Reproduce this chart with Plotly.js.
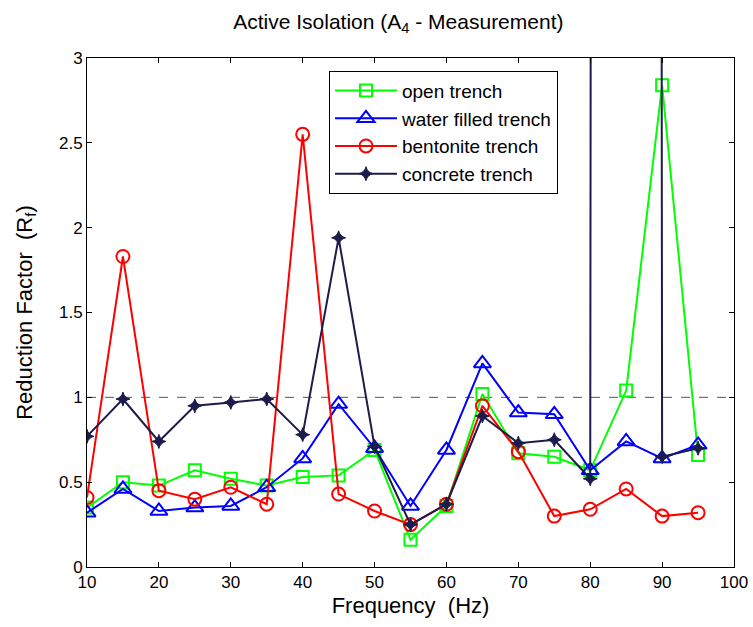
<!DOCTYPE html>
<html>
<head>
<meta charset="utf-8">
<script src="https://cdn.plot.ly/plotly-3.0.1.min.js"></script>
<style>html,body{margin:0;padding:0;background:#fff;}#chart{width:753px;height:627px;}</style>
</head>
<body>
<div id="chart"></div>
<script>
const frequency = [10,15,20,25,30,35,40,45,50,55,60,65,70,75,80,85,90,95];
const openTrench = [0.35,0.50,0.48,0.57,0.52,0.48,0.53,0.54,0.69,0.16,0.36,1.02,0.67,0.65,0.57,1.04,2.84,0.66];
const waterTrench = [0.32,0.46,0.33,0.35,0.36,0.47,0.64,0.96,0.70,0.36,0.69,1.20,0.91,0.90,0.57,0.74,0.64,0.72];
const bentoniteTrench = [0.41,1.83,0.45,0.40,0.47,0.37,2.55,0.43,0.33,0.25,0.37,0.95,0.68,0.30,0.34,0.46,0.30,0.32];
const concreteTrench = [0.77,0.99,0.74,0.95,0.97,0.99,0.78,1.94,0.71,0.25,0.37,0.89,0.73,0.75,0.52,200,0.65,0.70];
const seriesNames = ["open trench","water filled trench","bentonite trench","concrete trench"];
const xTicks = [10,20,30,40,50,60,70,80,90,100];
const yTicks = [0,0.5,1,1.5,2,2.5,3];
const yTickLabels = ["0","0.5","1","1.5","2","2.5","3"];
const refLevel = 1;

const font = "Liberation Sans, Arial, sans-serif";
function tr(y, name, color, symbol, size) {
  return {
    x: frequency, y: y, name: name, type: "scatter", mode: "lines+markers",
    line: {color: color, width: 2},
    marker: {symbol: symbol, size: size, color: color, line: {color: color, width: 2}},
    cliponaxis: true
  };
}
const data = [
  tr(openTrench, seriesNames[0], "#00ff00", "square-open", 12),
  tr(waterTrench, seriesNames[1], "#0000ff", "triangle-up-open", 15),
  tr(bentoniteTrench, seriesNames[2], "#ff0000", "circle-open", 13),
  tr(concreteTrench, seriesNames[3], "#1c1c4c", "star-diamond", 10)
];
data[3].marker.line.width = 1;
const axisCommon = {
  showline: true, linecolor: "#000", linewidth: 1, mirror: "ticks",
  ticks: "inside", ticklen: 5, tickcolor: "#000", showgrid: false, zeroline: false,
  tickfont: {family: font, size: 17, color: "#000"}
};
const layout = {
  width: 753, height: 627,
  margin: {l: 87, r: 19, t: 58, b: 60},
  paper_bgcolor: "#fff", plot_bgcolor: "#fff",
  font: {family: font, color: "#000"},
  title: {text: "Active Isolation (A<sub>4</sub> - Measurement)", font: {family: font, size: 21, color: "#000"}, x: 0.529, xanchor: "center", y: 0.966, yanchor: "middle"},
  xaxis: Object.assign({}, axisCommon, {
    range: [10, 100], tickvals: xTicks, ticktext: xTicks.map(String),
    title: {text: "Frequency  (Hz)", font: {family: font, size: 22, color: "#000"}, standoff: 6}
  }),
  yaxis: Object.assign({}, axisCommon, {
    range: [0, 3], tickvals: yTicks, ticktext: yTickLabels,
    title: {text: "Reduction Factor  (R<sub>f</sub>)", font: {family: font, size: 22, color: "#000"}, standoff: 20}
  }),
  shapes: [{type: "line", xref: "paper", x0: 0, x1: 1, yref: "y", y0: refLevel, y1: refLevel,
    line: {color: "#555", width: 1, dash: "dash"}, layer: "below"}],
  legend: {
    x: 0.374, y: 0.975, xanchor: "left", yanchor: "top",
    bgcolor: "#fff", bordercolor: "#000", borderwidth: 1,
    font: {family: font, size: 19, color: "#000"},
    tracegroupgap: 0, itemwidth: 62
  },
  showlegend: true
};
Plotly.newPlot("chart", data, layout, {displayModeBar: false, staticPlot: true});
</script>
</body>
</html>
